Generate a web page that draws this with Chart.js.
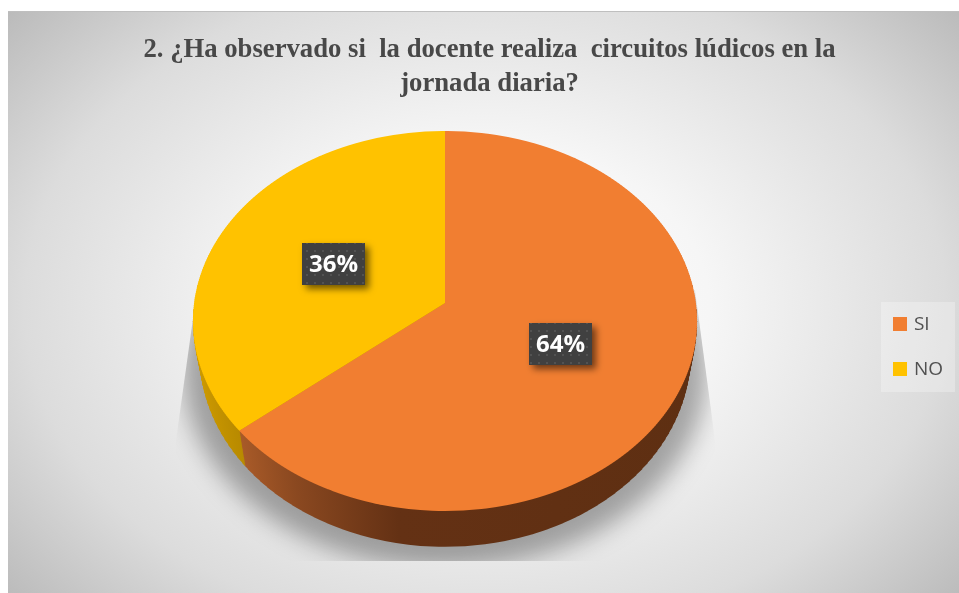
<!DOCTYPE html>
<html>
<head>
<meta charset="utf-8">
<style>
    html, body { margin: 0; padding: 0; background: #fff; overflow: hidden; }
    canvas { display: block; }
</style>
<script src="https://cdn.jsdelivr.net/npm/chart.js@4/dist/chart.umd.min.js"></script>
</head>
<body>
<canvas id="pie" width="959" height="593"></canvas>
<script>
const categories = ['SI', 'NO']
const values = [64, 36]
const sliceColors = ['#F17E31', '#FFC200']
const titleLines = ['2. ¿Ha observado si  la docente realiza  circuitos lúdicos en la', 'jornada diaria?']

// the pie lies tilted: the top face and the rim are perspective views of a circle
const topFace = { cx: 445, y0: 303, a: 188.3, b: 250.9, k: -0.0947 }
const rimFace = { cx: 445, y0: 337, a: 190, b: 244, k: -0.0947 }
const rimDepth = 36

function lerpFace(t) {
    return {
        cx: topFace.cx,
        y0: topFace.y0 + (rimFace.y0 - topFace.y0) * t,
        a: topFace.a + (rimFace.a - topFace.a) * t,
        b: topFace.b + (rimFace.b - topFace.b) * t,
        k: topFace.k
    }
}

// draw all arcs through a face, one thin row band at a time
function drawFace(ctx, arcs, face, band, fills) {
    const R = arcs[0].outerRadius
    const ox = arcs[0].x
    const oy = arcs[0].y
    const top = Math.floor(face.y0 - 180)
    const bottom = Math.ceil(face.y0 + 215)
    for (let y = top; y < bottom; y += band) {
        const Y = y + band / 2 - face.y0
        const v = Y / (face.a - face.k * Y)
        if (Math.abs(v) > 1.03) continue
        const w = 1 + face.k * v
        const sx = face.b / (w * R)
        const sy = face.a / (w * w * R)
        ctx.save()
        ctx.setTransform(1, 0, 0, 1, 0, 0)
        ctx.beginPath()
        ctx.rect(0, y, 959, band)
        ctx.clip()
        ctx.setTransform(sx, 0, 0, sy, face.cx - sx * ox, face.y0 + Y - sy * (oy + v * R))
        arcs.forEach((arc, i) => {
            const keep = arc.options
            if (fills) arc.options = Object.assign({}, keep, { backgroundColor: fills[i] })
            arc.draw(ctx)
            arc.options = keep
        })
        ctx.restore()
    }
}

function project(face, u, v) {
    const w = 1 + face.k * v
    return { x: face.cx + face.b * u / w, y: face.y0 + face.a * v / w }
}

function dotPattern(ctx) {
    const c = document.createElement('canvas')
    c.width = 8
    c.height = 8
    const p = c.getContext('2d')
    p.fillStyle = '#404040'
    p.fillRect(0, 0, 8, 8)
    p.fillStyle = '#525252'
    p.fillRect(2, 2, 2, 2)
    return ctx.createPattern(c, 'repeat')
}

// legend marker as a small canvas, so the gap to the text stays as tight as the reference
function legendMarker(color) {
    const c = document.createElement('canvas')
    c.width = 14
    c.height = 14
    const p = c.getContext('2d')
    p.fillStyle = color
    p.fillRect(0, 0, 14, 14)
    return c
}

const scenePlugin = {
    id: 'scene',
    beforeDraw(chart) {
        const ctx = chart.ctx
        ctx.save()
        ctx.translate(485, 305)
        ctx.scale(1, 0.72)
        const bg = ctx.createRadialGradient(0, 0, 0, 0, 0, 640)
        bg.addColorStop(0, '#ffffff')
        bg.addColorStop(0.35, '#f6f6f6')
        bg.addColorStop(0.72, '#dcdcdc')
        bg.addColorStop(1, '#b8b8b8')
        ctx.fillStyle = bg
        ctx.fillRect(8 - 485, (12 - 305) / 0.72, 951, 581 / 0.72)
        ctx.restore()
        ctx.fillStyle = '#bfbfbf'
        ctx.fillRect(8, 11, 951, 1)

        ctx.fillStyle = 'rgba(255,255,255,0.28)'
        ctx.fillRect(881, 302, 74, 90)
    },
    beforeDatasetDraw(chart, args) {
        const ctx = chart.ctx
        const arcs = chart.getDatasetMeta(args.index).data

        // soft ground shadow, cut by a trapezoid like the reference
        ctx.save()
        ctx.beginPath()
        ctx.moveTo(197, 290)
        ctx.lineTo(176, 440)
        ctx.lineTo(176, 561)
        ctx.lineTo(715, 561)
        ctx.lineTo(715, 440)
        ctx.lineTo(695, 290)
        ctx.closePath()
        ctx.clip()
        ctx.filter = 'blur(12px)'
        ctx.fillStyle = 'rgba(0,0,0,0.33)'
        ctx.beginPath()
        ctx.ellipse(445, 370, 262, 198, 0, 0, Math.PI * 2)
        ctx.fill()
        ctx.restore()

        // rim, stacked from bottom to top
        const x0 = arcs[0].x - arcs[0].outerRadius
        const x1 = arcs[0].x + arcs[0].outerRadius
        const orangeWall = ctx.createLinearGradient(x0, 0, x1, 0)
        orangeWall.addColorStop(0.115, '#a85a28')
        orangeWall.addColorStop(0.225, '#8a4820')
        orangeWall.addColorStop(0.415, '#643114')
        orangeWall.addColorStop(1, '#5e2f12')
        const yellowWall = ctx.createLinearGradient(x0, 0, x1, 0)
        yellowWall.addColorStop(0, '#d09c00')
        yellowWall.addColorStop(0.115, '#b88a00')
        for (let d = rimDepth; d >= 1; d--) {
            drawFace(ctx, arcs, lerpFace(d / rimDepth), 6, [orangeWall, yellowWall])
        }

        drawFace(ctx, arcs, topFace, 2)
        return false
    },
    afterDatasetsDraw(chart) {
        const ctx = chart.ctx
        const arcs = chart.getDatasetMeta(0).data
        const total = values.reduce((s, n) => s + n, 0)
        const fill = dotPattern(ctx)
        arcs.forEach((arc, i) => {
            const mid = arc.getCenterPoint()
            const p = project(topFace, (mid.x - arc.x) / arc.outerRadius, (mid.y - arc.y) / arc.outerRadius)
            const bx = Math.round(p.x - 31.5)
            const by = Math.round(p.y - 21)
            ctx.save()
            ctx.shadowColor = 'rgba(0,0,0,0.55)'
            ctx.shadowBlur = 7
            ctx.shadowOffsetX = 4
            ctx.shadowOffsetY = 4
            ctx.fillStyle = fill
            ctx.fillRect(bx, by, 63, 42)
            ctx.restore()
            ctx.fillStyle = '#fff'
            ctx.font = 'bold 24px "Open Sans"'
            ctx.textAlign = 'center'
            ctx.textBaseline = 'middle'
            ctx.fillText(Math.round(values[i] / total * 100) + '%', bx + 31.5, by + 22)
        })
    }
}

new Chart(document.getElementById('pie'), {
    type: 'pie',
    data: {
        labels: categories,
        datasets: [{
            data: values,
            backgroundColor: sliceColors,
            borderWidth: 0
        }]
    },
    options: {
        responsive: false,
        animation: false,
        layout: { padding: { left: 26, right: 6, top: 0, bottom: 20 } },
        plugins: {
            title: {
                display: true,
                text: titleLines,
                color: '#484848',
                font: { family: '"Liberation Serif"', size: 26.7, weight: 'bold', lineHeight: 1.24 },
                padding: { top: 34, bottom: 20 }
            },
            legend: {
                position: 'right',
                fullSize: false,
                labels: {
                    usePointStyle: true,
                    pointStyleWidth: 8,
                    boxHeight: 14,
                    color: '#505050',
                    font: { family: '"Open Sans"', size: 19 },
                    padding: 26,
                    generateLabels(chart) {
                        return categories.map((name, i) => ({
                            text: name,
                            index: i,
                            pointStyle: legendMarker(sliceColors[i]),
                            fontColor: '#505050',
                            lineWidth: 0
                        }))
                    }
                }
            },
            tooltip: { enabled: false }
        }
    },
    plugins: [scenePlugin]
})
</script>
</body>
</html>
